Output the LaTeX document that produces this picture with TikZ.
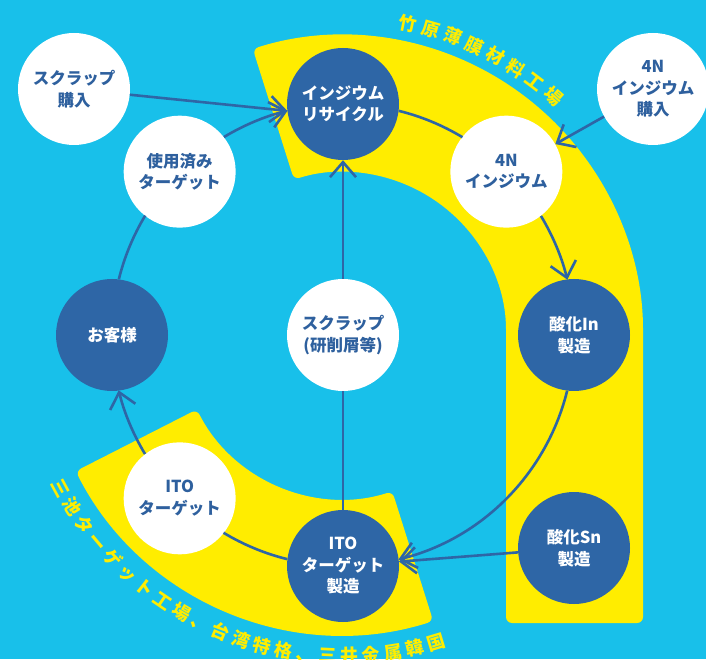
\documentclass[tikz,border=0pt]{standalone}
\usepackage{fontspec}
\setmainfont{Noto Sans CJK JP}
\usetikzlibrary{arrows.meta,calc}
\definecolor{bgc}{RGB}{24,192,234}
\definecolor{ylw}{RGB}{255,237,0}
\definecolor{dkb}{RGB}{46,102,166}
\definecolor{txb}{RGB}{46,96,158}
\begin{document}
\begin{tikzpicture}[x=1pt,y=1pt,
  wnode/.style={circle, fill=white, minimum size=112pt, inner sep=0pt, text=txb,
    font=\fontsize{16.5}{21.5}\selectfont\bfseries, align=center},
  dnode/.style={wnode, fill=dkb, text=white},
  conn/.style={draw=dkb, line width=2.6pt},
  arr/.style={conn, -{Straight Barb[length=15pt,width=26pt]}},
  band/.style={fill=ylw, rounded corners=6pt},
  ttl/.style={text=ylw, font=\fontsize{18}{18}\selectfont\bfseries, inner sep=0pt,
    text height=15.84pt, text depth=2.16pt}
]
\useasboundingbox (0,0) rectangle (706,659);
\clip (0,0) rectangle (706,659);
\fill[bgc] (0,0) rectangle (706,659);
\coordinate (C) at (343,324);

% yellow bands
\fill[band] ($(C)+(107.5:300)$) arc[start angle=107.5, end angle=0, radius=300pt]
  -- (643,36) -- (506,36) -- ($(C)+(0:163)$)
  arc[start angle=0, end angle=107.5, radius=163pt] -- cycle;
\fill[band] ($(C)+(207:300)$) arc[start angle=207, end angle=287.5, radius=300pt]
  -- ($(C)+(287.5:164)$) arc[start angle=287.5, end angle=207, radius=164pt] -- cycle;

% curved labels
\foreach \ch [count=\i from 0] in {竹,原,薄,膜,材,料,工,場} {
  \pgfmathsetmacro\ang{78.2-4.23*\i}
  \node[ttl, rotate=\ang-90] (ta\i) at ($(C)+(\ang:318)$) {\ch};
}
\foreach \ch [count=\i from 0] in {三,池,タ,ー,ゲ,ッ,ト,工,場,、,台,湾,特,格,、,三,井,金,属,韓,国} {
  \pgfmathsetmacro\ang{208.4+3.92*\i}
  \node[ttl, rotate=\ang+90] (tb\i) at ($(C)+(\ang:321)$) {\ch};
}

% nodes
\node[dnode] (recycle) at ($(C)+(90:231)$) {インジウム\\リサイクル};
\node[wnode] (n4) at ($(C)+(45:231)$) {4N\\インジウム};
\node[dnode] (inox) at ($(C)+(0:231)$) {酸化In\\製造};
\node[dnode] (snox) at (574,111) {酸化Sn\\製造};
\node[dnode] (itomfg) at ($(C)+(270:231)$) {ITO\\ターゲット\\製造};
\node[wnode] (itotgt) at ($(C)+(225:231)$) {ITO\\ターゲット};
\node[dnode] (customer) at ($(C)+(180:231)$) {お客様};
\node[wnode] (used) at ($(C)+(135:231)$) {使用済み\\ターゲット};
\node[wnode] (scrap) at (C) {スクラップ\\(研削屑等)};
\node[wnode] (scrapbuy) at (74,570) {スクラップ\\購入};
\node[wnode] (buy4n) at (653,570) {4N\\インジウム\\購入};

% ring connectors
\draw[conn] (recycle.-7) arc[start angle=76.08, end angle=58.92, radius=231pt];
\draw[arr] (n4.-52) arc[start angle=31.08, end angle=13.92, radius=231pt];
\draw[arr] (inox.-97) arc[start angle=-13.92, end angle=-76.08, radius=231pt];
\draw[conn] (itomfg.173) arc[start angle=-103.92, end angle=-121.08, radius=231pt];
\draw[arr] (itotgt.128) arc[start angle=-148.92, end angle=-166.08, radius=231pt];
\draw[conn] (customer.83) arc[start angle=166.08, end angle=148.92, radius=231pt];
\draw[arr] (used.38) arc[start angle=121.08, end angle=103.92, radius=231pt];

% straight connectors
\draw[arr] (scrapbuy) -- (recycle.187);
\draw[arr] (buy4n) -- (n4);
\draw[arr] (snox) -- (itomfg);
\draw[arr] (scrap) -- (recycle);
\draw[conn] (itomfg) -- (scrap);
\end{tikzpicture}
\end{document}
